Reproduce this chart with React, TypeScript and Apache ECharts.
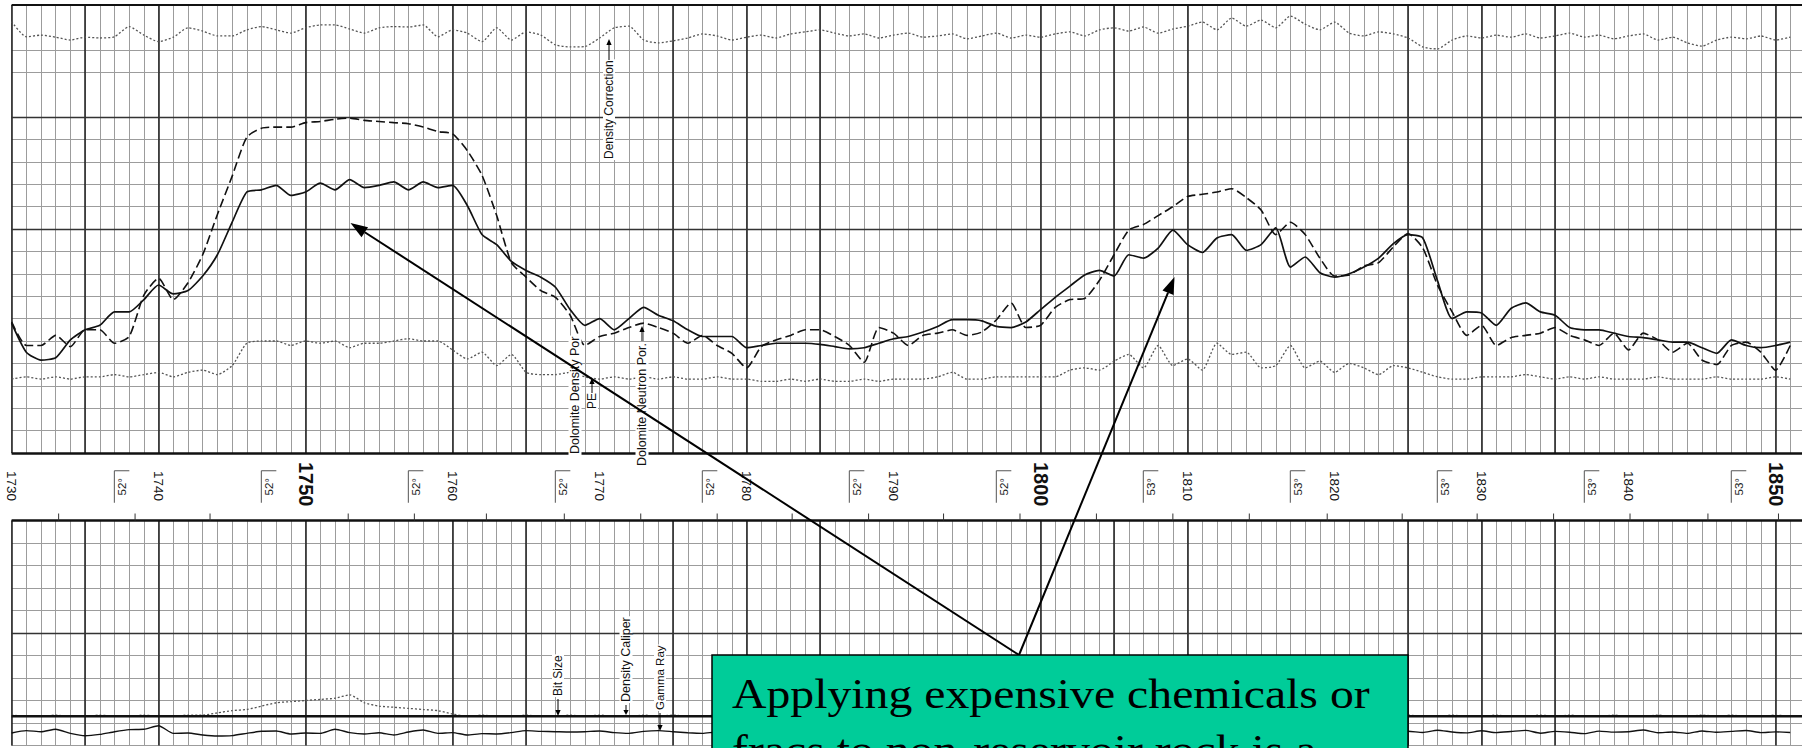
import React, { useEffect, useRef } from "react";
import * as echarts from "echarts";

// Depth sampling: one reading per foot, starting at 1730 ft
const DEPTH_START = 1730;
const DEPTH_MIN = 1730;
const DEPTH_MAX = 1851.8;

// Dolomite density porosity (%), solid curve
const densityPor = [
  18.4, 21.0, 21.7, 21.5, 19.9, 19.0, 18.6, 17.4, 17.4, 16.3,
  15.0, 15.8, 15.5, 14.2, 12.3, 9.4, 6.7, 6.5, 6.1, 7.0,
  6.7, 5.9, 6.5, 5.6, 6.3, 6.1, 5.8, 6.5, 5.8, 6.3,
  6.1, 7.9, 10.5, 11.4, 12.9, 13.7, 14.3, 15.2, 17.2, 18.6,
  18.0, 19.0, 18.0, 17.0, 17.7, 18.2, 19.0, 19.6, 19.6, 19.6,
  20.6, 20.4, 20.2, 20.2, 20.2, 20.3, 20.5, 20.7, 20.6, 20.2,
  19.8, 19.6, 19.2, 18.7, 18.1, 18.1, 18.2, 18.7, 18.8, 18.3,
  17.2, 16.1, 15.1, 14.1, 13.7, 14.2, 12.3, 12.6, 11.7, 10.1,
  11.4, 12.1, 10.8, 10.5, 11.9, 11.4, 9.9, 13.4, 12.5, 13.9,
  14.3, 14.0, 13.4, 12.6, 11.3, 10.5, 10.8, 14.6, 18.0, 17.4,
  17.5, 18.6, 17.1, 16.6, 17.4, 17.7, 18.8, 19.0, 19.0, 19.3,
  19.6, 19.7, 19.9, 20.1, 20.1, 20.6, 21.1, 19.9, 20.4, 20.6,
  20.4, 20.1,
];

// Dolomite neutron porosity (%), dashed curve
const neutronPor = [
  18.3, 20.4, 20.4, 19.5, 20.5, 19.0, 19.0, 20.2, 19.6, 15.9,
  14.4, 16.3, 14.8, 12.3, 8.7, 5.3, 1.8, 1.0, 0.9, 0.9,
  0.5, 0.4, 0.2, 0.1, 0.3, 0.4, 0.5, 0.6, 0.9, 1.3,
  1.5, 3.0, 5.2, 8.8, 13.0, 14.3, 15.5, 16.1, 17.7, 20.4,
  19.6, 19.3, 18.8, 18.4, 18.8, 19.3, 20.2, 19.5, 20.4, 21.1,
  22.4, 20.5, 19.9, 19.5, 19.0, 19.0, 19.6, 20.4, 21.9, 18.8,
  19.3, 20.4, 19.5, 19.3, 19.0, 19.5, 19.2, 18.1, 16.6, 18.8,
  18.6, 17.0, 16.3, 16.2, 14.6, 12.3, 10.1, 9.6, 8.8, 8.0,
  7.1, 6.9, 6.7, 6.4, 7.2, 8.3, 10.5, 9.4, 10.5, 12.6,
  14.2, 14.1, 13.3, 13.0, 11.6, 10.4, 11.7, 15.0, 17.4, 19.5,
  18.6, 20.4, 19.7, 19.5, 19.3, 18.8, 19.5, 19.9, 20.4, 19.3,
  20.8, 19.3, 19.9, 21.0, 20.2, 21.7, 22.1, 20.4, 20.1, 21.0,
  22.6, 20.4,
];

// Photoelectric factor (b/e), dotted curve
const photoElectric = [
  3.3, 3.4, 3.3, 3.4, 3.3, 3.4, 3.4, 3.5, 3.4, 3.5,
  3.6, 3.4, 3.6, 3.7, 3.5, 3.9, 4.9, 5.0, 5.0, 4.8,
  5.0, 4.9, 5.0, 4.7, 4.9, 4.9, 5.0, 5.1, 5.0, 5.0,
  4.6, 4.2, 4.5, 3.9, 4.4, 3.6, 3.5, 3.5, 3.6, 3.4,
  3.3, 3.4, 3.3, 3.4, 3.3, 3.4, 3.3, 3.3, 3.4, 3.3,
  3.3, 3.2, 3.2, 3.3, 3.2, 3.3, 3.2, 3.2, 3.3, 3.2,
  3.3, 3.3, 3.3, 3.4, 3.6, 3.3, 3.3, 3.4, 3.4, 3.4,
  3.4, 3.4, 3.7, 3.8, 3.7, 4.1, 4.4, 3.8, 4.8, 3.9,
  4.2, 3.7, 4.9, 4.4, 4.5, 3.8, 3.9, 4.8, 3.8, 4.1,
  3.6, 4.0, 3.8, 3.5, 3.9, 3.8, 3.6, 3.4, 3.3, 3.3,
  3.4, 3.4, 3.4, 3.5, 3.4, 3.3, 3.4, 3.3, 3.4, 3.3,
  3.3, 3.3, 3.4, 3.3, 3.3, 3.3, 3.4, 3.3, 3.3, 3.3,
  3.4, 3.3,
];

// Density correction (g/cc), dotted curve near the top of the track
const densityCorr = [
  0.059, 0.022, 0.026, 0.021, 0.014, 0.021, 0.019, 0.022, 0.047, 0.026,
  0.010, 0.021, 0.044, 0.036, 0.024, 0.024, 0.039, 0.047, 0.039, 0.031,
  0.044, 0.051, 0.051, 0.041, 0.031, 0.044, 0.047, 0.046, 0.051, 0.022,
  0.039, 0.031, 0.010, 0.044, 0.014, 0.034, 0.026, 0.002, -0.003, -0.002,
  0.019, 0.044, 0.048, 0.014, 0.007, 0.012, 0.019, 0.029, 0.024, 0.014,
  0.021, 0.026, 0.019, 0.029, 0.034, 0.039, 0.031, 0.024, 0.029, 0.019,
  0.026, 0.031, 0.021, 0.024, 0.029, 0.017, 0.024, 0.031, 0.019, 0.026,
  0.021, 0.029, 0.034, 0.024, 0.039, 0.044, 0.036, 0.046, 0.031, 0.041,
  0.048, 0.058, 0.039, 0.068, 0.048, 0.063, 0.044, 0.073, 0.053, 0.039,
  0.058, 0.031, 0.024, 0.034, 0.029, 0.019, -0.003, -0.008, 0.014, 0.024,
  0.019, 0.026, 0.021, 0.029, 0.019, 0.024, 0.031, 0.021, 0.026, 0.017,
  0.024, 0.029, 0.014, 0.021, 0.007, -0.001, 0.014, 0.021, 0.017, 0.024,
  0.014, 0.021,
];

// Gamma ray (API), solid curve in the lower track
const gammaRay = [
  8.3, 9.9, 9.2, 10.8, 8.1, 6.5, 7.4, 9.2, 10.6, 10.8,
  13.2, 8.1, 8.3, 7.0, 6.3, 6.6, 8.1, 9.5, 9.7, 7.7,
  8.3, 8.1, 10.8, 8.6, 7.7, 8.5, 7.0, 9.0, 10.3, 8.1,
  8.6, 7.0, 7.9, 7.7, 8.6, 9.9, 9.4, 9.2, 9.0, 9.2,
  9.7, 8.6, 8.1, 9.4, 9.9, 9.2, 8.5, 8.1, 9.0, 8.4,
  9.6, 8.8, 8.0, 9.1, 10.2, 8.7, 7.9, 9.3, 8.6, 9.8,
  8.9, 7.8, 9.0, 10.4, 9.1, 8.3, 9.6, 8.8, 7.6, 9.5,
  10.1, 8.7, 9.2, 8.4, 9.9, 8.8, 7.9, 9.4, 10.3, 8.6,
  9.0, 8.2, 9.7, 8.9, 7.8, 9.3, 10.0, 8.5, 9.1, 8.3,
  9.6, 10.4, 8.8, 9.2, 7.9, 9.5, 8.7, 10.2, 9.0, 8.4,
  9.8, 8.6, 9.3, 10.1, 8.2, 9.4, 8.8, 7.9, 9.6, 8.9,
  9.2, 10.3, 8.5, 9.0, 8.1, 9.7, 8.8, 9.4, 10.0, 8.6,
  9.1, 8.7,
];

// Density caliper (in), dotted curve in the lower track
const densityCaliper = [
  8.7, 8.6, 8.6, 8.7, 8.6, 8.6, 8.7, 8.6, 8.6, 8.7,
  8.6, 8.6, 8.7, 8.7, 8.9, 9.1, 9.2, 9.5, 9.8, 9.9,
  10.0, 10.1, 10.2, 10.5, 9.8, 9.5, 9.4, 9.3, 9.2, 9.1,
  8.8, 8.6, 8.7, 8.6, 8.6, 8.7, 8.6, 8.6, 8.7, 8.6,
  8.7, 8.6, 8.6, 8.7, 8.6, 8.7, 8.6, 8.6, 8.7, 8.6,
  8.6, 8.7, 8.6, 8.6, 8.7, 8.6, 8.7, 8.6, 8.6, 8.7,
  8.6, 8.6, 8.7, 8.6, 8.7, 8.6, 8.6, 8.7, 8.6, 8.6,
  8.7, 8.6, 8.6, 8.7, 8.6, 8.6, 8.7, 8.6, 8.7, 8.6,
  8.6, 8.7, 8.6, 8.6, 8.7, 8.6, 8.6, 8.7, 8.6, 8.6,
  8.7, 8.6, 8.7, 8.6, 8.6, 8.7, 8.6, 8.6, 8.7, 8.6,
  8.6, 8.7, 8.6, 8.6, 8.7, 8.6, 8.7, 8.6, 8.6, 8.7,
  8.6, 8.6, 8.7, 8.6, 8.6, 8.7, 8.6, 8.7, 8.6, 8.6,
  8.7, 8.6,
];

// Bit size (in)
const BIT_SIZE = 8.6;

// Depth track annotations
const depthLabels = [1730, 1740, 1750, 1760, 1770, 1780, 1790, 1800, 1810, 1820, 1830, 1840, 1850];
const majorDepthLabels = [1750, 1800, 1850];
const heavyGridDepths = [1730, 1735, 1740, 1750, 1760, 1765, 1775, 1780, 1785, 1800, 1805, 1810, 1825, 1830, 1835, 1850];
const tempTagDepths = [1737.5, 1747.5, 1757.5, 1767.5, 1777.5, 1787.5, 1797.5, 1807.5, 1817.5, 1827.5, 1837.5, 1847.5];
const tempTagLabels = ["52°", "52°", "52°", "52°", "52°", "52°", "52°", "53°", "53°", "53°", "53°", "53°"];
const timeMarkDepths = [
  1733.2, 1738.4, 1743.5, 1752.9, 1757.4, 1762.3, 1767.6, 1772.8, 1778.0, 1783.1, 1788.3, 1793.4,
  1798.6, 1803.8, 1809.0, 1814.2, 1819.5, 1824.6, 1829.7, 1834.9, 1840.1, 1845.4, 1850.2,
];
// Porosity grid values (%) that carry no printed line in the upper track
const blankPorosityLines = [-8, -2];

const FONT_SANS = '"Liberation Sans", Arial, Helvetica, sans-serif';
const FONT_SERIF = '"Liberation Serif", "Times New Roman", serif';
const GRID_COLOR = "#9c9c9c";
const HEAVY_COLOR = "#1e1e1e";
const INK = "#111";

const toPairs = (vals: number[]) => vals.map((v, i) => [DEPTH_START + i, v]);

// Line with a filled triangular head at (x2, y2)
function arrow(x1: number, y1: number, x2: number, y2: number, head: number, half: number, width: number, z: number) {
  const dx = x2 - x1;
  const dy = y2 - y1;
  const len = Math.hypot(dx, dy);
  const ux = dx / len;
  const uy = dy / len;
  const bx = x2 - ux * head;
  const by = y2 - uy * head;
  return [
    { type: "line", silent: true, z, shape: { x1, y1, x2: bx, y2: by }, style: { stroke: "#000", lineWidth: width } },
    {
      type: "polygon",
      silent: true,
      z,
      shape: { points: [[x2, y2], [bx - uy * half, by + ux * half], [bx + uy * half, by - ux * half]] },
      style: { fill: "#000" },
    },
  ];
}

// Curve name written upwards along the depth direction
function sideLabel(text: string, x: number, yStart: number, size: number) {
  return {
    type: "text",
    silent: true,
    z: 40,
    x,
    y: yStart,
    rotation: Math.PI / 2,
    style: {
      text,
      fontSize: size,
      fontFamily: FONT_SANS,
      fill: INK,
      align: "left",
      verticalAlign: "middle",
      backgroundColor: "#fff",
      padding: [0, 1],
    },
  };
}

function buildOption() {
  const depthAxis = {
    type: "value",
    min: DEPTH_MIN,
    max: DEPTH_MAX,
    interval: 1,
    axisLine: { show: false },
    axisTick: { show: false },
    axisLabel: { show: false },
  };
  const thinGrid = { show: true, lineStyle: { color: GRID_COLOR, width: 1 } };
  const porosityTicks: number[] = [];
  for (let v = -10; v <= 30; v += 2) porosityTicks.push(v);
  const porosityGridColors = porosityTicks.map((v) =>
    blankPorosityLines.includes(v) ? "rgba(0,0,0,0)" : GRID_COLOR
  );
  const markBase = {
    silent: true,
    symbol: "none",
    animation: false,
    label: { show: false },
    emphasis: { disabled: true },
    lineStyle: { type: "solid", color: HEAVY_COLOR, width: 1.5 },
  };
  const heavyVertical = heavyGridDepths.map((d) => ({ xAxis: d }));

  const graphics: any[] = [
    // Curve names in the porosity track
    sideLabel("Density Correction", 609, 160, 12),
    ...arrow(609, 60, 609, 39, 6, 2.6, 1, 41),
    sideLabel("Dolomite Density Por", 575, 455, 12.5),
    sideLabel("PE", 592, 410, 12),
    ...arrow(592, 393, 592, 378, 6, 2.6, 1, 41),
    sideLabel("Dolomite Neutron Por.", 642, 467, 12.5),
    ...arrow(642, 341, 642, 326, 6, 2.6, 1, 41),
    // Curve names in the lower track
    sideLabel("Bit Size", 558, 697, 12),
    ...arrow(558, 699, 558, 716, 6, 2.6, 1, 41),
    sideLabel("Density Caliper", 626, 703, 12.5),
    ...arrow(626, 705, 626, 715, 5, 2.6, 1, 41),
    sideLabel("Gamma Ray", 660, 711, 11.5),
    ...arrow(660, 713, 660, 731, 6, 2.6, 1, 41),
    // Call-out arrows
    ...arrow(1019, 655, 350.5, 223, 17, 6, 2, 60),
    ...arrow(1019, 655, 1174.5, 277, 17, 6, 2, 60),
    // Call-out box
    {
      type: "rect",
      silent: true,
      z: 70,
      shape: { x: 712, y: 655, width: 696, height: 130 },
      style: { fill: "#00CC99", stroke: "#000", lineWidth: 1.5 },
    },
    {
      type: "text",
      silent: true,
      z: 80,
      x: 732,
      y: 694,
      scaleX: 1.137,
      style: {
        text: "Applying expensive chemicals or",
        fontSize: 42,
        fontFamily: FONT_SERIF,
        fill: "#000",
        align: "left",
        verticalAlign: "middle",
      },
    },
    {
      type: "text",
      silent: true,
      z: 80,
      x: 732,
      y: 750,
      scaleX: 1.137,
      style: {
        text: "fracs to non-reservoir rock is a",
        fontSize: 42,
        fontFamily: FONT_SERIF,
        fill: "#000",
        align: "left",
        verticalAlign: "middle",
      },
    },
  ];

  return {
    animation: false,
    backgroundColor: "#fff",
    grid: [
      { left: 11.6, right: 0, top: 5, height: 448 },
      { left: 11.6, right: 0, top: 520.5, height: 225 },
      { left: 11.6, right: 0, top: 453, height: 67.5 },
    ],
    xAxis: [
      { ...depthAxis, gridIndex: 0, splitLine: thinGrid },
      { ...depthAxis, gridIndex: 1, splitLine: thinGrid },
      {
        ...depthAxis,
        gridIndex: 1,
        position: "top",
        interval: 10,
        splitLine: { show: false },
        axisLabel: {
          show: true,
          showMinLabel: true,
          rotate: 90,
          margin: 19.5,
          fontSize: 13.5,
          fontFamily: FONT_SANS,
          color: INK,
          formatter: (v: number) =>
            depthLabels.includes(v) && !majorDepthLabels.includes(v) ? String(v) : "",
        },
      },
      {
        ...depthAxis,
        gridIndex: 1,
        position: "top",
        interval: 10,
        splitLine: { show: false },
        axisLabel: {
          show: true,
          rotate: 90,
          margin: 14,
          fontSize: 20,
          fontWeight: "bold",
          fontFamily: FONT_SANS,
          color: INK,
          formatter: (v: number) => (majorDepthLabels.includes(v) ? String(v) : ""),
        },
      },
      { ...depthAxis, gridIndex: 2, show: false },
    ],
    yAxis: [
      {
        type: "value",
        gridIndex: 0,
        min: -10,
        max: 30,
        interval: 2,
        inverse: true,
        axisLine: { show: false },
        axisTick: { show: false },
        axisLabel: { show: false },
        splitLine: { show: true, lineStyle: { color: porosityGridColors, width: 1 } },
      },
      { type: "value", gridIndex: 0, min: 0, max: 20, show: false },
      { type: "value", gridIndex: 0, min: -1.0, max: 0.1, show: false },
      {
        type: "value",
        gridIndex: 1,
        min: 0,
        max: 150,
        interval: 15,
        axisLine: { show: false },
        axisTick: { show: false },
        axisLabel: { show: false },
        splitLine: thinGrid,
      },
      { type: "value", gridIndex: 1, min: 6, max: 26, show: false },
      { type: "value", gridIndex: 2, min: 0, max: 1, show: false },
    ],
    series: [
      {
        name: "Dolomite Density Por",
        type: "line",
        xAxisIndex: 0,
        yAxisIndex: 0,
        data: toPairs(densityPor),
        symbol: "none",
        smooth: 0.2,
        z: 6,
        lineStyle: { color: INK, width: 1.7 },
        markLine: {
          ...markBase,
          data: [
            ...heavyVertical,
            { yAxis: 0, lineStyle: { type: "solid", color: "#333", width: 1.4 } },
            { yAxis: 10, lineStyle: { type: "solid", color: "#333", width: 1.4 } },
            { yAxis: -10, lineStyle: { type: "solid", color: INK, width: 2.2 } },
            { yAxis: 30, lineStyle: { type: "solid", color: INK, width: 2.6 } },
          ],
        },
      },
      {
        name: "Dolomite Neutron Por.",
        type: "line",
        xAxisIndex: 0,
        yAxisIndex: 0,
        data: toPairs(neutronPor),
        symbol: "none",
        smooth: 0.2,
        z: 6,
        lineStyle: { color: INK, width: 1.6, type: [9, 4] },
      },
      {
        name: "PE",
        type: "line",
        xAxisIndex: 0,
        yAxisIndex: 1,
        data: toPairs(photoElectric),
        symbol: "none",
        smooth: 0.2,
        z: 5,
        lineStyle: { color: "#555", width: 1.3, type: [2, 2] },
      },
      {
        name: "Density Correction",
        type: "line",
        xAxisIndex: 0,
        yAxisIndex: 2,
        data: toPairs(densityCorr),
        symbol: "none",
        smooth: 0.2,
        z: 5,
        lineStyle: { color: "#555", width: 1.3, type: [2, 2] },
      },
      {
        name: "Gamma Ray",
        type: "line",
        xAxisIndex: 1,
        yAxisIndex: 3,
        data: toPairs(gammaRay),
        symbol: "none",
        smooth: 0.2,
        z: 6,
        lineStyle: { color: INK, width: 1.4 },
        markLine: {
          ...markBase,
          data: [
            ...heavyVertical,
            { yAxis: 75, lineStyle: { type: "solid", color: "#333", width: 1.4 } },
            { yAxis: 150, lineStyle: { type: "solid", color: INK, width: 2.6 } },
          ],
        },
      },
      {
        name: "Density Caliper",
        type: "line",
        xAxisIndex: 1,
        yAxisIndex: 4,
        data: toPairs(densityCaliper),
        symbol: "none",
        smooth: 0.2,
        z: 5,
        lineStyle: { color: "#555", width: 1.3, type: [2, 2] },
      },
      {
        name: "Bit Size",
        type: "line",
        xAxisIndex: 1,
        yAxisIndex: 4,
        data: [
          [DEPTH_MIN, BIT_SIZE],
          [DEPTH_MAX, BIT_SIZE],
        ],
        symbol: "none",
        z: 6,
        lineStyle: { color: INK, width: 2.6 },
      },
      {
        // Borehole temperature tags in the depth column
        type: "custom",
        xAxisIndex: 4,
        yAxisIndex: 5,
        silent: true,
        clip: false,
        z: 5,
        data: tempTagDepths.map((d) => [d, 0.5]),
        renderItem: (params: any, api: any) => {
          const [x, y] = api.coord([api.value(0), api.value(1)]);
          return {
            type: "group",
            children: [
              {
                type: "text",
                x,
                y,
                rotation: Math.PI / 2,
                style: {
                  text: tempTagLabels[params.dataIndex],
                  fontSize: 11.5,
                  fontFamily: FONT_SANS,
                  fill: "#222",
                  align: "center",
                  verticalAlign: "middle",
                },
              },
              {
                type: "polyline",
                shape: { points: [[x - 7.5, y + 16], [x - 7.5, y - 16], [x + 7.5, y - 16]] },
                style: { stroke: "#555", lineWidth: 1, fill: "none" },
              },
            ],
          };
        },
      },
      {
        // Time marks along the lower track border
        type: "custom",
        xAxisIndex: 4,
        yAxisIndex: 5,
        silent: true,
        clip: false,
        z: 5,
        data: timeMarkDepths.map((d) => [d, 0]),
        renderItem: (_params: any, api: any) => {
          const [x, y] = api.coord([api.value(0), api.value(1)]);
          return {
            type: "line",
            shape: { x1: x, y1: y, x2: x, y2: y - 7 },
            style: { stroke: "#333", lineWidth: 1 },
          };
        },
      },
    ],
    graphic: graphics,
  };
}

export default function App() {
  const ref = useRef<HTMLDivElement>(null);

  useEffect(() => {
    document.body.style.margin = "0";
    if (!ref.current) return;
    const chart = echarts.init(ref.current, null, { renderer: "svg" });
    chart.setOption(buildOption() as any);
    return () => chart.dispose();
  }, []);

  return <div ref={ref} style={{ width: 1802, height: 748, background: "#fff" }} />;
}
